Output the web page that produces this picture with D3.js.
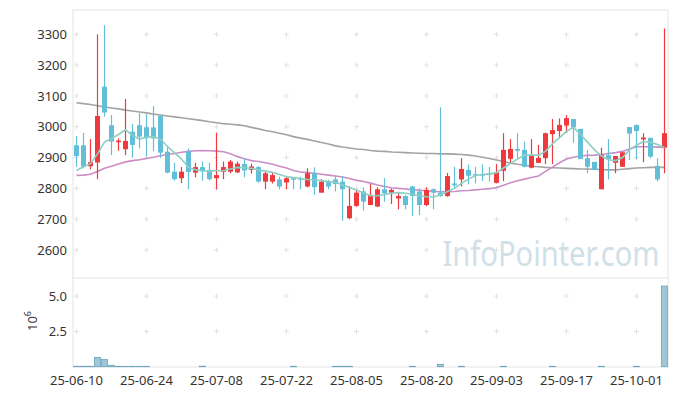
<!DOCTYPE html>
<html>
<head>
<meta charset="utf-8">
<script src="https://cdn.jsdelivr.net/npm/d3@7"></script>
<style>
  body { margin: 0; background: #fff; }
  text { font-family: "Noto Sans", "Open Sans", sans-serif; }
</style>
</head>
<body>
<div id="chart"></div>
<script>
// trading days shown on the chart
var dates = [
  "25-06-10","25-06-11","25-06-12","25-06-13","25-06-16","25-06-17","25-06-18","25-06-19","25-06-20","25-06-23",
  "25-06-24","25-06-25","25-06-26","25-06-27","25-06-30","25-07-01","25-07-02","25-07-03","25-07-04","25-07-07",
  "25-07-08","25-07-09","25-07-10","25-07-11","25-07-14","25-07-15","25-07-16","25-07-17","25-07-18","25-07-21",
  "25-07-22","25-07-23","25-07-24","25-07-25","25-07-28","25-07-29","25-07-30","25-07-31","25-08-01","25-08-04",
  "25-08-05","25-08-06","25-08-07","25-08-08","25-08-11","25-08-12","25-08-13","25-08-14","25-08-18","25-08-19",
  "25-08-20","25-08-21","25-08-22","25-08-25","25-08-26","25-08-27","25-08-28","25-08-29","25-09-01","25-09-02",
  "25-09-03","25-09-04","25-09-05","25-09-08","25-09-09","25-09-10","25-09-11","25-09-12","25-09-15","25-09-16",
  "25-09-17","25-09-18","25-09-19","25-09-22","25-09-23","25-09-24","25-09-25","25-09-26","25-09-29","25-09-30",
  "25-10-01","25-10-02","25-10-10","25-10-13","25-10-14"];

var openPrice = [
  2940,2940,2872,2884,3130,3005,2950,2927,2984,3005, 2998,2998,3035,2919,2854,2833,2919,2851,2869,2860,
  2833,2854,2854,2852,2879,2860,2869,2822,2822,2829, 2819,2833,2833,2806,2849,2786,2822,2829,2822,2703,
  2743,2790,2746,2741,2797,2786,2767,2775,2806,2790, 2746,2797,2786,2775,2816,2829,2860,2846,2846,2849,
  2818,2857,2896,2928,2925,2867,2883,2898,2976,2986, 3004,3025,2993,2898,2886,2797,2908,2883,2870,2999,
  3006,2959,2964,2873,2932];
var closePrice = [
  2905,2870,2885,3035,3046,2952,2955,2954,2941,2968, 2963,2962,2916,2851,2830,2854,2853,2869,2855,2830,
  2843,2869,2887,2880,2858,2871,2822,2849,2843,2806, 2833,2828,2830,2849,2804,2822,2806,2814,2797,2743,
  2786,2757,2779,2797,2784,2795,2775,2746,2775,2746, 2795,2786,2775,2840,2810,2863,2841,2843,2844,2845,
  2852,2925,2928,2922,2870,2905,2899,2979,2989,3006, 3028,2998,2895,2870,2860,2908,2895,2905,2917,2978,
  2986,2965,2903,2829,2979];
var highPrice = [
  2970,2980,2960,3300,3330,3038,2962,3090,3009,3044, 3041,3067,3038,2936,2883,2869,2930,2883,2887,2883,
  2981,2887,2892,2887,2898,2880,2873,2855,2851,2838, 2840,2834,2838,2865,2868,2830,2828,2840,2840,2806,
  2795,2803,2814,2803,2833,2800,2784,2778,2808,2800, 2803,2800,3063,2850,2870,2898,2878,2870,2878,2870,
  2879,2979,2960,2979,2952,2960,2941,2981,3025,3027, 3038,3025,2993,2925,2886,2932,2960,2905,2917,2999,
  3006,2979,2964,2898,3319];
var lowPrice = [
  2870,2865,2862,2830,3033,2908,2922,2908,2900,2930, 2903,2921,2899,2849,2825,2817,2797,2836,2825,2825,
  2797,2830,2849,2849,2836,2848,2818,2797,2816,2797, 2798,2797,2797,2803,2779,2786,2797,2790,2695,2700,
  2740,2728,2745,2739,2757,2749,2732,2732,2710,2713, 2742,2732,2773,2773,2800,2806,2813,2816,2824,2822,
  2816,2823,2881,2892,2868,2865,2882,2879,2879,2962, 2980,2948,2895,2849,2860,2797,2829,2849,2870,2892,
  2895,2885,2898,2822,2849];
var volume = [
  30000,30000,30000,660000,520000,100000,25000,25000,25000,25000,
  25000,0,0,0,0,0,0,0,40000,0,
  0,0,0,0,0,0,0,0,0,0,
  0,30000,0,0,0,0,0,30000,30000,30000,
  0,0,0,0,0,0,0,0,30000,0,
  0,0,170000,0,0,30000,0,0,0,0,
  0,30000,0,0,0,0,0,0,30000,0,
  0,0,0,0,0,30000,0,0,0,0,
  30000,0,0,0,5710000];

// moving averages
var ma5 = [
  2858,2870,2880,2912,2950,2962,2975,2990,2972,2960, 2966,2968,2960,2936,2915,2895,2868,2860,2857,2856,
  2857,2858,2863,2868,2867,2865,2860,2856,2852,2845, 2838,2835,2832,2829,2827,2825,2822,2820,2812,2803,
  2795,2785,2776,2776,2780,2784,2786,2784,2781,2777, 2773,2772,2779,2790,2800,2816,2830,2842,2845,2847,
  2851,2866,2881,2895,2908,2908,2908,2920,2945,2965, 2985,2998,2975,2950,2925,2905,2893,2890,2900,2925,
  2940,2952,2950,2942,2933];
var ma20 = [
  2842,2843,2846,2855,2865,2872,2879,2886,2890,2893, 2897,2901,2906,2910,2913,2917,2920,2922,2923,2922,
  2921,2919,2912,2903,2896,2890,2887,2883,2878,2872, 2866,2858,2853,2851,2849,2846,2843,2840,2837,2832,
  2826,2822,2817,2811,2806,2802,2800,2798,2796,2794, 2792,2790,2789,2789,2790,2792,2793,2795,2797,2799,
  2803,2810,2818,2825,2830,2835,2840,2855,2869,2883, 2895,2901,2905,2907,2908,2910,2913,2916,2920,2928,
  2935,2935,2935,2934,2933];
var ma60 = [
  3078,3075,3072,3068,3064,3061,3058,3054,3051,3048, 3045,3041,3038,3035,3032,3029,3026,3023,3020,3016,
  3013,3010,3008,3006,3003,2998,2993,2988,2984,2979, 2974,2968,2963,2959,2954,2949,2944,2938,2934,2931,
  2928,2926,2923,2921,2920,2918,2917,2916,2915,2914, 2913,2913,2912,2912,2911,2910,2908,2905,2901,2897,
  2892,2887,2882,2878,2875,2872,2870,2868,2867,2866, 2865,2864,2863,2863,2862,2861,2860,2860,2862,2864,
  2866,2867,2868,2868,2868];

var priceTicks = [2600, 2700, 2800, 2900, 3000, 3100, 3200, 3300];
var volumeTicks = [2.5e6, 5e6];
var dateTicks = ["25-06-10","25-06-24","25-07-08","25-07-22","25-08-05","25-08-20","25-09-03","25-09-17","25-10-01"];

var width = 677, height = 396;
var plotLeft = 73, plotRight = 668, plotTop = 10, plotBottom = 278, volBottom = 367;

var upColor = "#ee3a3f", downColor = "#63bfd8";

var svg = d3.select("#chart")
    .append("svg")
    .attr("width", width)
    .attr("height", height);

var x = d3.scaleBand()
    .domain(dates)
    .range([plotLeft, plotRight]);

var y = d3.scaleLinear()
    .domain([2509, 3379])
    .range([plotBottom, plotTop]);

var yVol = d3.scaleLinear()
    .domain([0, 6.28e6])
    .range([volBottom - 0.3, plotBottom]);

function cx(d) { return x(d) + x.bandwidth() / 2; }

// frame
svg.append("rect")
    .attr("x", plotLeft).attr("y", plotTop)
    .attr("width", plotRight - plotLeft).attr("height", volBottom - plotTop)
    .attr("fill", "none").attr("stroke", "#e4e4e4");
svg.append("line")
    .attr("x1", plotLeft).attr("x2", plotRight)
    .attr("y1", plotBottom).attr("y2", plotBottom)
    .attr("stroke", "#e4e4e4");

// little + marks where grid lines would cross
var crossPts = [];
dateTicks.forEach(function(dt) {
    priceTicks.forEach(function(p) { crossPts.push([cx(dt), y(p)]); });
    volumeTicks.forEach(function(v) { crossPts.push([cx(dt), yVol(v)]); });
});
svg.append("g").selectAll("path")
    .data(crossPts)
    .enter()
    .append("path")
    .attr("d", function(d) {
        return "M" + (d[0] - 2.5) + "," + d[1] + "h5M" + d[0] + "," + (d[1] - 2.5) + "v5";
    })
    .attr("stroke", "#e2e2e2")
    .attr("stroke-width", 1);

// watermark, squeezed horizontally to the width seen in the picture
var wm = svg.append("text")
    .attr("font-size", "35px")
    .attr("fill", "#d0e0e8")
    .text("InfoPointer.com");
var wmScale = 217 / wm.node().getComputedTextLength();
wm.attr("transform", "translate(442.5,265.5) scale(" + wmScale + ",1)");

// axes labels
var yAxis = d3.axisLeft(y).tickValues(priceTicks).tickSize(0).tickPadding(6)
    .tickFormat(d3.format("d"));
var gy = svg.append("g").attr("transform", "translate(" + plotLeft + ",0)").call(yAxis);
var yVolAxis = d3.axisLeft(yVol).tickValues(volumeTicks).tickSize(0).tickPadding(6)
    .tickFormat(function(d) { return (d / 1e6).toFixed(1); });
var gv = svg.append("g").attr("transform", "translate(" + plotLeft + ",0)").call(yVolAxis);
var xAxis = d3.axisBottom(x).tickValues(dateTicks).tickSize(0).tickPadding(9);
var gx = svg.append("g").attr("transform", "translate(0," + volBottom + ")").call(xAxis);

[gy, gv, gx].forEach(function(g) {
    g.select(".domain").remove();
    g.selectAll("text")
        .attr("font-size", "13px")
        .attr("font-family", "'Noto Sans', sans-serif")
        .attr("fill", "#333");
});

svg.append("text")
    .attr("transform", "translate(37,321) rotate(-90)")
    .attr("text-anchor", "middle")
    .attr("font-size", "13px")
    .attr("fill", "#333")
    .html('10<tspan dy="-6" font-size="9px">6</tspan>');

// moving average lines
var maLine = d3.line()
    .x(function(d, i) { return cx(dates[i]); })
    .y(function(d) { return y(d); });

svg.append("path").datum(ma60).attr("d", maLine)
    .attr("fill", "none").attr("stroke", "#a3a3a3").attr("stroke-width", 1.6);
svg.append("path").datum(ma20).attr("d", maLine)
    .attr("fill", "none").attr("stroke", "#cc8dc6").attr("stroke-width", 1.6);

// candles
var candles = dates.map(function(d, i) {
    return {date: d, o: openPrice[i], c: closePrice[i], h: highPrice[i], l: lowPrice[i]};
});
var cg = svg.append("g").selectAll("g")
    .data(candles)
    .enter()
    .append("g");

cg.append("line")
    .attr("x1", function(d) { return cx(d.date); })
    .attr("x2", function(d) { return cx(d.date); })
    .attr("y1", function(d) { return y(d.h); })
    .attr("y2", function(d) { return y(d.l); })
    .attr("stroke", function(d) { return d.c >= d.o ? upColor : downColor; })
    .attr("stroke-width", 1.2);

cg.append("rect")
    .attr("x", function(d) { return cx(d.date) - 2.5; })
    .attr("width", 5)
    .attr("y", function(d) { return y(Math.max(d.o, d.c)); })
    .attr("height", function(d) { return Math.max(1.5, Math.abs(y(d.o) - y(d.c))); })
    .attr("fill", function(d) { return d.c >= d.o ? upColor : downColor; });

svg.append("path").datum(ma5).attr("d", maLine)
    .attr("fill", "none").attr("stroke", "#8dcfc3").attr("stroke-width", 1.6);

// volume bars
var volData = dates.map(function(d, i) { return {date: d, v: volume[i]}; })
    .filter(function(d) { return d.v > 0; });
svg.append("g").selectAll("rect")
    .data(volData)
    .enter()
    .append("rect")
    .attr("x", function(d) { return x(d.date) + 0.5; })
    .attr("width", x.bandwidth() - 1)
    .attr("y", function(d) { return yVol(d.v); })
    .attr("height", function(d) { return yVol(0) - yVol(d.v); })
    .attr("fill", "#9fc6d7")
    .attr("stroke", "#6aa5bd")
    .attr("stroke-width", 0.8);
</script>
</body>
</html>
